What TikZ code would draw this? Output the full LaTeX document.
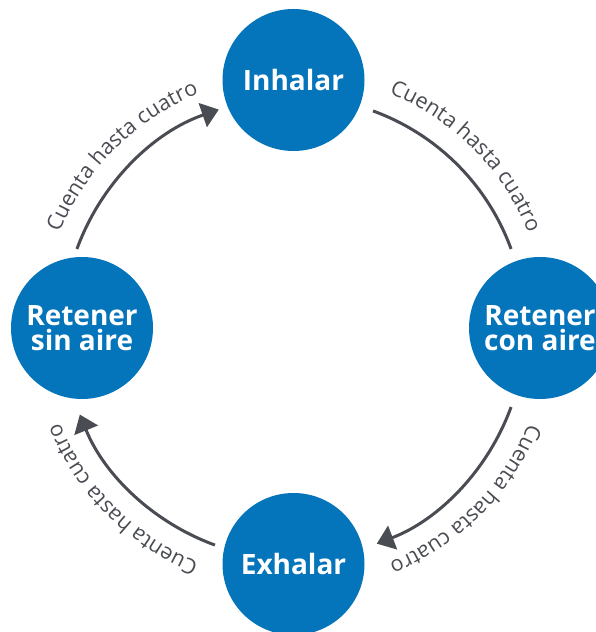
\documentclass[tikz,border=0pt]{standalone}
\usepackage{fontspec}
\setmainfont{Open Sans}
\usetikzlibrary{arrows.meta,decorations.text}

\definecolor{phaseblue}{HTML}{0474BB}
\definecolor{countgrey}{HTML}{4A4C53}
\newcommand{\countfont}{\fontsize{21.5}{24}\selectfont\color{countgrey}}

\begin{document}
\begin{tikzpicture}[x=1pt, y=1pt,
    phase/.style={circle, fill=phaseblue, minimum size=142pt, inner sep=0pt,
        text=white, align=center, font=\fontsize{28}{24.5}\selectfont\bfseries},
    cycle/.style={line width=3pt, draw=countgrey},
    tip/.style={-{Triangle[length=17pt, width=25pt]}},
    count/.style={decorate, decoration={text along path, text align=center,
        text={|\countfont|Cuenta hasta cuatro}}}]
    \useasboundingbox (0,0) rectangle (595,632);
    \coordinate (ring) at (294,304);

    % the four phases
    \node[phase] (inhalar) at (293.5,552) {Inhalar};
    \node[phase] (retcon) at (540,304) {Retener\\con aire};
    \node[phase] (exhalar) at (293.5,68) {Exhalar};
    \node[phase] (retsin) at (82,304) {Retener\\sin aire};

    % arcs of the cycle, clockwise
    \draw[cycle, tip] ([shift={(160:231pt)}]ring) arc[start angle=160, end angle=109, radius=231pt];
    \draw[cycle] ([shift={(70:231pt)}]ring) arc[start angle=70, end angle=20, radius=231pt];
    \draw[cycle, tip] ([shift={(-20:231pt)}]ring) arc[start angle=-20, end angle=-69, radius=231pt];
    \draw[cycle, tip] ([shift={(-110:231pt)}]ring) arc[start angle=-110, end angle=-158, radius=231pt];

    % labels along the arcs
    \path[count] ([shift={(162:253pt)}]ring) arc[start angle=162, end angle=108, radius=253pt];
    \path[count] ([shift={(72:253pt)}]ring) arc[start angle=72, end angle=18, radius=253pt];
    \path[count] ([shift={(-18:253pt)}]ring) arc[start angle=-18, end angle=-72, radius=253pt];
    \path[count] ([shift={(-108:253pt)}]ring) arc[start angle=-108, end angle=-162, radius=253pt];
\end{tikzpicture}
\end{document}
